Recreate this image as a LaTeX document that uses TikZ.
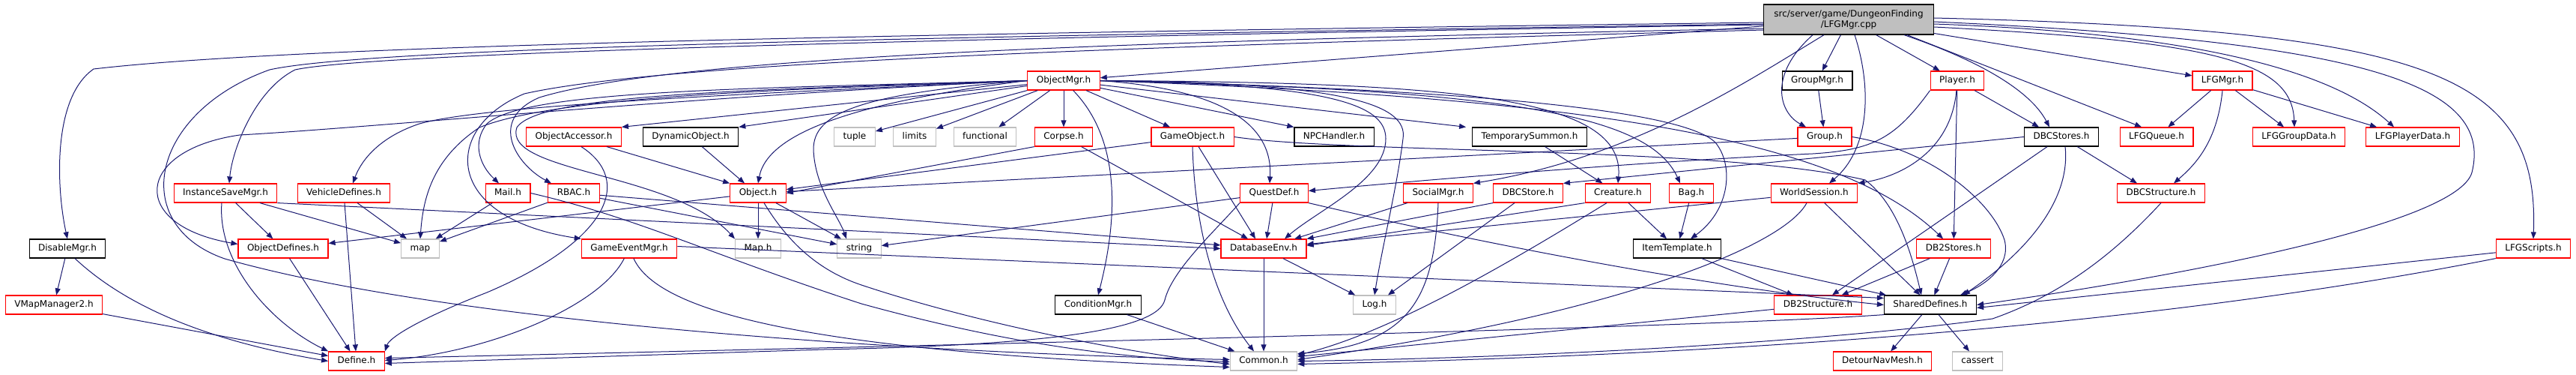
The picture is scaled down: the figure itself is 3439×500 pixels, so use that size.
\documentclass[tikz,border=0pt]{standalone}
\usepackage{fontspec}
\setmainfont{DejaVu Sans}
\usepackage{tikz}
\definecolor{edgeBlue}{HTML}{191970}
\definecolor{boxGrey}{HTML}{BFBFBF}
\usetikzlibrary{arrows.meta}
\tikzset{
  >={Triangle[length=9pt,width=7pt]},
  font=\fontsize{12}{14}\selectfont,
  file/.style={draw=black,fill=white,shape=rectangle,line width=1.2pt,minimum height=25pt,inner xsep=12pt,inner ysep=0pt,text height=9pt,text depth=3pt},
  trunc/.style={file,draw=red},
  sys/.style={file,draw=boxGrey},
  rootbox/.style={draw=black,fill=boxGrey,shape=rectangle,line width=1.2pt,minimum height=40pt,inner xsep=14pt,align=center},
  line/.style={draw=edgeBlue,->,line width=1pt},
}
\begin{document}
\begin{tikzpicture}[x=1pt,y=-1pt]
  \useasboundingbox (0,0) rectangle (3439,500);
  \node (root) [rootbox] at (2468,26) {src/server/game/DungeonFinding\\/LFGMgr.cpp};

  \node (objmgr) [trunc] at (1420,107.5) {ObjectMgr.h};
  \node (groupmgr) [file] at (2426,107.5) {GroupMgr.h};
  \node (player) [trunc] at (2613,107.5) {Player.h};
  \node (lfgmgr) [trunc] at (2967,107.5) {LFGMgr.h};

  \node (objacc) [trunc] at (766,182.5) {ObjectAccessor.h};
  \node (dynobj) [file] at (922,182.5) {DynamicObject.h};
  \node (tuple) [sys] at (1141,182.5) {tuple};
  \node (limits) [sys] at (1221,182.5) {limits};
  \node (functional) [sys] at (1315,182.5) {functional};
  \node (corpse) [trunc] at (1420,182.5) {Corpse.h};
  \node (gameobj) [trunc] at (1592,182.5) {GameObject.h};
  \node (npchandler) [file] at (1781,182.5) {NPCHandler.h};
  \node (tempsummon) [file] at (2042,182.5) {TemporarySummon.h};
  \node (group) [trunc] at (2436,182.5) {Group.h};
  \node (dbcstores) [file] at (2752,182.5) {DBCStores.h};
  \node (lfgqueue) [trunc] at (2879,182.5) {LFGQueue.h};
  \node (lfggroupdata) [trunc] at (3069,182.5) {LFGGroupData.h};
  \node (lfgplayerdata) [trunc] at (3221,182.5) {LFGPlayerData.h};

  \node (instsave) [trunc] at (301,257.5) {InstanceSaveMgr.h};
  \node (vehicle) [trunc] at (459,257.5) {VehicleDefines.h};
  \node (mail) [trunc] at (678,257.5) {Mail.h};
  \node (rbac) [trunc] at (766,257.5) {RBAC.h};
  \node (object) [trunc] at (1012,257.5) {Object.h};
  \node (questdef) [trunc] at (1701,257.5) {QuestDef.h};
  \node (socialmgr) [trunc] at (1920,257.5) {SocialMgr.h};
  \node (dbcstore) [trunc] at (2040,257.5) {DBCStore.h};
  \node (creature) [trunc] at (2160,257.5) {Creature.h};
  \node (bag) [trunc] at (2258,257.5) {Bag.h};
  \node (worldsession) [trunc] at (2422,257.5) {WorldSession.h};
  \node (dbcstructure) [trunc] at (2885,257.5) {DBCStructure.h};

  \node (disablemgr) [file] at (90,331.5) {DisableMgr.h};
  \node (objdefines) [trunc] at (378,331.5) {ObjectDefines.h};
  \node (map) [sys] at (561,331.5) {map};
  \node (gameevent) [trunc] at (840,331.5) {GameEventMgr.h};
  \node (maph) [sys] at (1012,331.5) {Map.h};
  \node (string) [sys] at (1147,331.5) {string};
  \node (dbenv) [trunc] at (1687,331.5) {DatabaseEnv.h};
  \node (itemtemplate) [file] at (2239,331.5) {ItemTemplate.h};
  \node (db2stores) [trunc] at (2608,331.5) {DB2Stores.h};
  \node (lfgscripts) [trunc] at (3382,331.5) {LFGScripts.h};

  \node (vmap) [trunc] at (72,406.5) {VMapManager2.h};
  \node (condmgr) [file] at (1466,406.5) {ConditionMgr.h};
  \node (log) [sys] at (1835,406.5) {Log.h};
  \node (db2structure) [trunc] at (2427,406.5) {DB2Structure.h};
  \node (shareddefs) [file] at (2577,406.5) {SharedDefines.h};

  \node (define) [trunc] at (476,481.5) {Define.h};
  \node (common) [sys] at (1687,481.5) {Common.h};
  \node (detour) [trunc] at (2513,481.5) {DetourNavMesh.h};
  \node (cassert) [sys] at (2640,481.5) {cassert};

  \path [line] (root) -- (objmgr);
  \path [line] (root) -- (groupmgr);
  \path [line] (root) -- (player);
  \path [line] (root) -- (lfgmgr);
  \path [line] ([xshift=-48pt]root.south) .. controls (2360,100) and (2375,150) .. ([xshift=-25pt]group.north);
  \path [line] ([xshift=-33pt]root.south) .. controls (2330,110) and (2180,210) .. (socialmgr.north east);
  \path [line] ([xshift=8pt]root.south) .. controls (2500,120) and (2495,200) .. ([xshift=20pt]worldsession.north);
  \path [line] ([xshift=74pt]root.south) .. controls (2640,80) and (2710,120) .. ([xshift=-16pt]dbcstores.north);
  \path [line] ([xshift=78pt]root.south) -- ([xshift=-20pt]lfgqueue.north);
  \path [line] ([yshift=-10pt]root.east) .. controls (2950,55) and (3060,80) .. ([xshift=-6pt]lfggroupdata.north);
  \path [line] ([yshift=-6pt]root.east) .. controls (2950,45) and (3120,100) .. ([xshift=-25pt]lfgplayerdata.north);
  \path [line] ([yshift=-3pt]root.east) .. controls (3150,55) and (3330,110) .. (3300,230) .. controls (3280,300) and (2900,370) .. (shareddefs.east);
  \path [line] ([yshift=2pt]root.east) .. controls (3250,40) and (3390,100) .. (lfgscripts.north);
  \path [line] ([yshift=-4pt]root.west) .. controls (1200,45) and (400,60) .. (125,92) .. controls (70,130) and (75,250) .. (disablemgr.north);
  \path [line] ([yshift=-7pt]root.west) .. controls (1300,50) and (500,70) .. (394,93) .. controls (340,120) and (310,200) .. ([xshift=5pt]instsave.north);
  \path [line] ([yshift=-6pt]root.west) .. controls (1300,48) and (500,62) .. (360,93) .. controls (200,150) and (170,300) .. (300,345) .. controls (600,430) and (1200,470) .. ([yshift=2pt]common.west);
  \path [line] ([yshift=-12pt]root.west) .. controls (1500,55) and (900,75) .. (720,130) .. controls (650,160) and (690,220) .. ([xshift=-30pt]rbac.north);
  \path [line] ([yshift=-14pt]root.west) .. controls (1600,60) and (900,80) .. (700,125) .. controls (590,170) and (590,290) .. (gameevent.north west);

  \path [line] (objmgr) -- (tuple);
  \path [line] (objmgr) -- (limits);
  \path [line] (objmgr) -- (functional);
  \path [line] (objmgr) -- (corpse);
  \path [line] (objmgr) -- (gameobj);
  \path [line] (objmgr) -- (objacc.north east);
  \path [line] (objmgr) -- (dynobj.north east);
  \path [line] (objmgr) -- (npchandler.north west);
  \path [line] (objmgr) -- ([xshift=-8pt]tempsummon.north west);
  \path [line] (objmgr.west) .. controls (1150,135) and (1025,175) .. (object.north);
  \path [line] (objmgr.west) .. controls (1150,125) and (1085,150) .. (1086,200) .. controls (1088,250) and (1120,290) .. ([xshift=-17pt]string.north);
  \path [line] (objmgr.west) .. controls (1000,118) and (700,120) .. (650,165) .. controls (630,190) and (640,220) .. ([xshift=-12pt]mail.north);
  \path [line] (objmgr.west) .. controls (1000,120) and (720,125) .. (690,170) .. controls (670,230) and (900,230) .. (maph.north west);
  \path [line] (objmgr.west) .. controls (1100,118) and (750,125) .. (640,170) .. controls (580,210) and (565,260) .. (map.north);
  \path [line] (objmgr.west) .. controls (1000,125) and (650,140) .. (560,165) .. controls (500,185) and (480,220) .. ([xshift=12pt]vehicle.north);
  \path [line] (objmgr.west) .. controls (900,130) and (500,170) .. (320,180) .. controls (180,200) and (170,300) .. ([yshift=6pt]objdefines.west);
  \path [line] (objmgr) .. controls (1500,190) and (1490,300) .. (condmgr.north);
  \path [line] (objmgr.east) .. controls (1620,118) and (1700,160) .. ([xshift=-6pt]questdef.north);
  \path [line] (objmgr.east) .. controls (1780,112) and (1850,140) .. (1850,185) .. controls (1850,240) and (1760,280) .. ([xshift=28pt]dbenv.north);
  \path [line] (objmgr.east) .. controls (1800,110) and (1880,140) .. (1873,185) .. controls (1865,250) and (1845,330) .. (log.north);
  \path [line] (objmgr.east) .. controls (1950,110) and (2170,130) .. (creature.north);
  \path [line] (objmgr.east) .. controls (2000,120) and (2200,150) .. ([xshift=-15pt]bag.north);
  \path [line] (objmgr.east) .. controls (2000,120) and (2250,150) .. (2290,190) .. controls (2315,220) and (2310,280) .. ([xshift=18pt]itemtemplate.north);
  \path [line] (objmgr.east) .. controls (2100,130) and (2450,180) .. ([xshift=-14pt]db2stores.north);

  \path [line] (object) -- (maph);
  \path [line] (object) -- ([xshift=-24pt]string.north);
  \path [line] (object) -- (objdefines);
  \path [line] ([xshift=8pt]object.south) .. controls (1050,320) and (1090,360) .. (1150,380) .. controls (1300,430) and (1500,470) .. ([yshift=-4pt]common.west);
  \path [line] (dynobj) -- ([xshift=-18pt]object.north);
  \path [line] (objacc) -- (object.north west);
  \path [line] ([xshift=10pt]objacc.south) .. controls (845,240) and (815,320) .. (650,390) .. controls (560,425) and (520,450) .. (define.north east);
  \path [line] (corpse.south west) -- (object.east);
  \path [line] (corpse) -- ([xshift=-21pt]dbenv.north);
  \path [line] (gameobj) -- (object);
  \path [line] (gameobj) -- ([xshift=-11pt]dbenv.north);
  \path [line] (gameobj.south) .. controls (1595,300) and (1620,400) .. ([xshift=-13pt]common.north);
  \path [line] (gameobj.east) .. controls (1800,205) and (2300,195) .. (2490,240) .. controls (2530,270) and (2550,330) .. ([xshift=-12pt]shareddefs.north);
  \path [line] (questdef) -- ([xshift=4pt]dbenv.north);
  \path [line] (questdef) -- (string);
  \path [line] (questdef.south west) .. controls (1620,310) and (1565,360) .. (1555,400) .. controls (1545,440) and (1400,460) .. (1100,466) -- ([yshift=-3pt]define.east);
  \path [line] (questdef.south east) .. controls (2000,330) and (2300,385) .. (shareddefs.west);

  \path [line] (player.south west) .. controls (2530,185) and (2500,200) .. (2420,205) .. controls (2200,215) and (1900,240) .. ([yshift=3pt]questdef.east);
  \path [line] (player) .. controls (2605,200) and (2540,235) .. (worldsession.north east);
  \path [line] (player) -- (db2stores);
  \path [line] (player) -- ([xshift=-30pt]dbcstores.north);
  \path [line] (groupmgr) -- (group);
  \path [line] (group) -- (object);
  \path [line] (group.east) .. controls (2580,200) and (2660,270) .. (2676,320) .. controls (2685,355) and (2650,380) .. ([xshift=40pt]shareddefs.north);
  \path [line] (dbcstores.west) -- (dbcstore.north east);
  \path [line] (dbcstores) -- (db2structure);
  \path [line] ([xshift=5pt]dbcstores.south) .. controls (2765,270) and (2700,340) .. ([xshift=44pt]shareddefs.north);
  \path [line] (dbcstores) -- ([xshift=-32pt]dbcstructure.north);
  \path [line] (lfgmgr) -- (lfgqueue);
  \path [line] (lfgmgr) -- ([xshift=-20pt]lfggroupdata.north);
  \path [line] (lfgmgr) -- ([xshift=-48pt]lfgplayerdata.north);
  \path [line] (lfgmgr.south) .. controls (2960,190) and (2930,220) .. ([xshift=17pt]dbcstructure.north);
  \path [line] (dbcstructure.south) .. controls (2830,330) and (2760,390) .. (2660,425) .. controls (2400,460) and (2000,478) .. (common.east);
  \path [line] (lfgscripts) -- ([yshift=-4pt]shareddefs.east);
  \path [line] (lfgscripts.south west) .. controls (3000,410) and (2500,470) .. ([yshift=-4pt]common.east);

  \path [line] (shareddefs) -- (detour);
  \path [line] (shareddefs) -- (cassert);
  \path [line] (shareddefs.south west) .. controls (2300,435) and (1500,455) .. ([yshift=4pt]define.east);
  \path [line] (db2structure) -- ([yshift=6pt]common.east);
  \path [line] (db2stores) -- (db2structure);
  \path [line] (db2stores) -- (shareddefs);
  \path [line] (itemtemplate) -- (db2structure);
  \path [line] (itemtemplate) -- (shareddefs);
  \path [line] (worldsession) -- (shareddefs);
  \path [line] (worldsession) -- (dbenv);
  \path [line] ([xshift=-10pt]worldsession.south) .. controls (2380,330) and (2150,420) .. ([yshift=2pt]common.east);
  \path [line] (bag) -- (itemtemplate);
  \path [line] (creature) -- (itemtemplate);
  \path [line] (creature.south west) -- ([yshift=4pt]dbenv.east);
  \path [line] ([xshift=-15pt]creature.south) .. controls (2000,360) and (1850,445) .. ([yshift=8pt]common.east);
  \path [line] (tempsummon) -- (creature);
  \path [line] (dbcstore.south west) -- (dbenv.north east);
  \path [line] (dbcstore) -- (log);
  \path [line] (socialmgr) -- (dbenv);
  \path [line] (socialmgr.south) .. controls (1915,400) and (1880,460) .. ([yshift=10pt]common.east);
  \path [line] (dbenv) -- (log);
  \path [line] (dbenv) -- (common);
  \path [line] (condmgr) -- (common);

  \path [line] (gameevent) .. controls (800,410) and (650,470) .. ([yshift=1pt]define.east);
  \path [line] (gameevent) .. controls (880,420) and (1100,470) .. ([yshift=-8pt]common.west);
  \path [line] ([yshift=3pt]gameevent.east) -- ([yshift=9pt]shareddefs.west);
  \path [line] (mail) -- (map);
  \path [line] (mail.east) .. controls (850,290) and (950,340) .. (1150,405) .. controls (1350,460) and (1500,478) .. ([yshift=-1pt]common.west);
  \path [line] (rbac) -- (map);
  \path [line] (rbac) -- (string);
  \path [line] (rbac) -- (dbenv);
  \path [line] (instsave) -- (objdefines);
  \path [line] (instsave) -- (map);
  \path [line] ([xshift=-5pt]instsave.south) .. controls (290,350) and (360,430) .. (define.north west);
  \path [line] (instsave.south east) -- (dbenv.west);
  \path [line] (vehicle) -- (map);
  \path [line] (vehicle) -- (define);
  \path [line] (objdefines) -- (define);
  \path [line] (disablemgr) -- (vmap);
  \path [line] ([xshift=10pt]disablemgr.south) .. controls (170,410) and (280,455) .. (define.west);
  \path [line] (vmap) -- (define);
\end{tikzpicture}
\end{document}
